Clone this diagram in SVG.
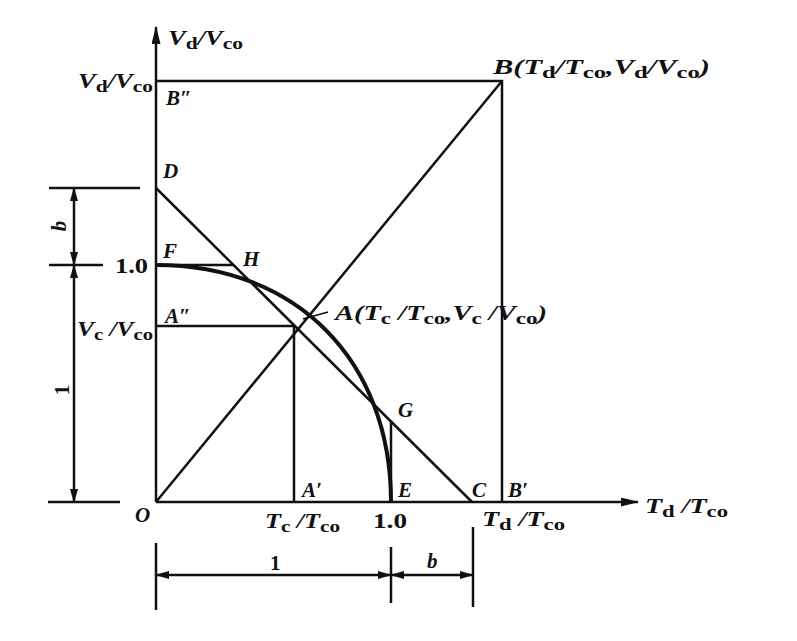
<svg xmlns="http://www.w3.org/2000/svg" width="797" height="641" viewBox="0 0 797 641">
<style>
.ln{stroke:#111;stroke-width:2.5;fill:none;stroke-linecap:butt}
.thin{stroke:#111;stroke-width:1.6;fill:none}
.crv{stroke:#111;stroke-width:4;fill:none}
.t{font-family:"Liberation Serif","Times New Roman",serif;font-weight:bold;font-style:italic;font-size:21px;fill:#111}
.s{font-style:normal;font-size:17px}
.n{font-style:normal}
</style>
<defs>
<marker id="ah" markerUnits="userSpaceOnUse" markerWidth="18" markerHeight="10" refX="17" refY="4.5" orient="auto-start-reverse">
<path d="M0,0 L18,4.5 L0,9 z" fill="#111"/>
</marker>
<marker id="dh" markerUnits="userSpaceOnUse" markerWidth="14" markerHeight="9" refX="13" refY="4" orient="auto-start-reverse">
<path d="M0,0 L14,4 L0,8 z" fill="#111"/>
</marker>
</defs>
<rect width="797" height="641" fill="#fff"/>

<g id="axes">
<line class="ln" x1="156" y1="502" x2="156" y2="27" marker-end="url(#ah)"/>
<line class="ln" x1="156" y1="502" x2="638" y2="502" marker-end="url(#ah)"/>
</g>

<g id="construction">
<polyline class="ln" points="156,81 502,81 502,502"/>
<line class="ln" x1="156" y1="502" x2="502" y2="81"/>
<line class="ln" x1="156" y1="188" x2="472" y2="502"/>
<line class="ln" x1="156" y1="265" x2="234" y2="265"/>
<polyline class="ln" points="156,326 294,326 294,502"/>
<line class="ln" x1="391" y1="502" x2="391" y2="422"/>
<path class="crv" d="M156,265 C297,265 391,361 391,502"/>
<line class="thin" x1="303" y1="319" x2="328" y2="312"/>
</g>

<g id="dimensions">
<line class="ln" x1="49" y1="188" x2="140" y2="188"/>
<line class="ln" x1="49" y1="265" x2="103" y2="265"/>
<line class="ln" x1="48" y1="502" x2="120" y2="502"/>
<line class="ln" x1="74" y1="188" x2="74" y2="265" marker-start="url(#dh)" marker-end="url(#dh)"/>
<line class="ln" x1="74" y1="265" x2="74" y2="502" marker-start="url(#dh)" marker-end="url(#dh)"/>
<line class="ln" x1="156" y1="543" x2="156" y2="610"/>
<line class="ln" x1="391" y1="547" x2="391" y2="603"/>
<line class="ln" x1="473" y1="527" x2="473" y2="607"/>
<line class="ln" x1="156" y1="575" x2="391" y2="575" marker-start="url(#dh)" marker-end="url(#dh)"/>
<line class="ln" x1="391" y1="575" x2="473" y2="575" marker-start="url(#dh)" marker-end="url(#dh)"/>
</g>

<g id="labels">
<text class="t" x="168" y="45" textLength="75" lengthAdjust="spacingAndGlyphs">V<tspan class="s" dy="4">d</tspan><tspan dy="-4">/V</tspan><tspan class="s" dy="4">co</tspan></text>
<text class="t" x="78" y="88" textLength="75" lengthAdjust="spacingAndGlyphs">V<tspan class="s" dy="4">d</tspan><tspan dy="-4">/V</tspan><tspan class="s" dy="4">co</tspan></text>
<text class="t" x="166" y="105">B″</text>
<text class="t" x="493" y="74" textLength="217" lengthAdjust="spacingAndGlyphs">B(T<tspan class="s" dy="4">d</tspan><tspan dy="-4">/T</tspan><tspan class="s" dy="4">co</tspan><tspan dy="-4">,V</tspan><tspan class="s" dy="4">d</tspan><tspan dy="-4">/V</tspan><tspan class="s" dy="4">co</tspan><tspan dy="-4">)</tspan></text>
<text class="t" x="163" y="178">D</text>
<text class="t" x="163" y="258">F</text>
<text class="t" x="243" y="266">H</text>
<text class="t n" x="115" y="273" textLength="33" lengthAdjust="spacingAndGlyphs">1.0</text>
<text class="t" x="165" y="323">A″</text>
<text class="t" x="77" y="336" textLength="76" lengthAdjust="spacingAndGlyphs">V<tspan class="s" dy="4">c</tspan><tspan dy="-4"> /V</tspan><tspan class="s" dy="4">co</tspan></text>
<text class="t" x="335" y="320" textLength="212" lengthAdjust="spacingAndGlyphs">A(T<tspan class="s" dy="4">c</tspan><tspan dy="-4"> /T</tspan><tspan class="s" dy="4">co</tspan><tspan dy="-4">,V</tspan><tspan class="s" dy="4">c</tspan><tspan dy="-4"> /V</tspan><tspan class="s" dy="4">co</tspan><tspan dy="-4">)</tspan></text>
<text class="t" x="398" y="417">G</text>
<text class="t" x="302" y="497">A′</text>
<text class="t" x="398" y="497">E</text>
<text class="t" x="472" y="497">C</text>
<text class="t" x="508" y="497">B′</text>
<text class="t" x="135" y="522">O</text>
<text class="t" x="265" y="528" textLength="75" lengthAdjust="spacingAndGlyphs">T<tspan class="s" dy="4">c</tspan><tspan dy="-4"> /T</tspan><tspan class="s" dy="4">co</tspan></text>
<text class="t n" x="373" y="528" textLength="34" lengthAdjust="spacingAndGlyphs">1.0</text>
<text class="t" x="482" y="526" textLength="83" lengthAdjust="spacingAndGlyphs">T<tspan class="s" dy="4">d</tspan><tspan dy="-4"> /T</tspan><tspan class="s" dy="4">co</tspan></text>
<text class="t" x="645" y="513" textLength="83" lengthAdjust="spacingAndGlyphs">T<tspan class="s" dy="4">d</tspan><tspan dy="-4"> /T</tspan><tspan class="s" dy="4">co</tspan></text>
<text class="t n" x="270" y="570">1</text>
<text class="t" x="427" y="568">b</text>
<text class="t" x="59" y="233" text-anchor="middle" transform="rotate(-90 59 226)">b</text>
<text class="t n" x="62" y="397" text-anchor="middle" transform="rotate(-90 62 390)">1</text>
</g>
</svg>
